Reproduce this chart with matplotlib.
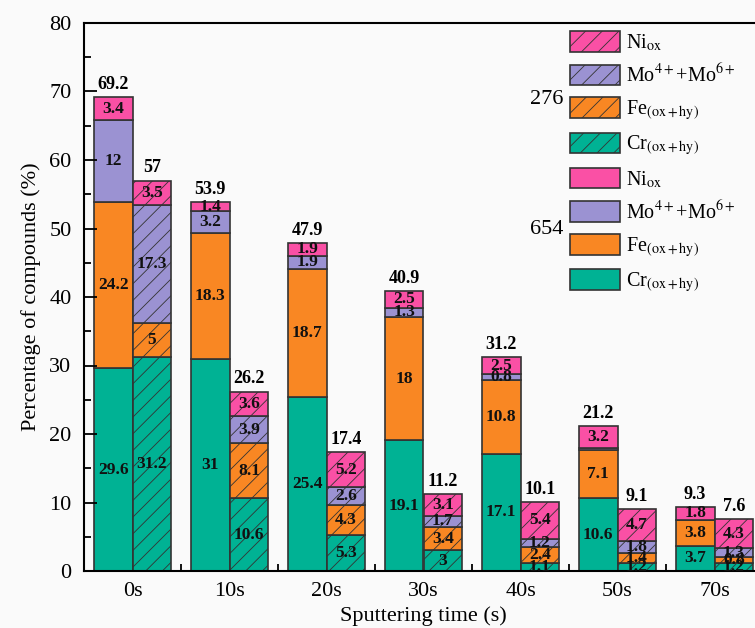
import numpy as np
from matplotlib import pyplot as plt
from matplotlib.patches import Patch

# sputtering time categories
times = ['0s', '10s', '20s', '30s', '40s', '50s', '70s']

# 654 sample (solid bars)
cr_654 = [29.6, 31, 25.4, 19.1, 17.1, 10.6, 3.7]
fe_654 = [24.2, 18.3, 18.7, 18, 10.8, 7.1, 3.8]
mo_654 = [12, 3.2, 1.9, 1.3, 0.8, 0.3, 0]
ni_654 = [3.4, 1.4, 1.9, 2.5, 2.5, 3.2, 1.8]

# 276 sample (hatched bars)
cr_276 = [31.2, 10.6, 5.3, 3, 1.1, 1.2, 1.2]
fe_276 = [5, 8.1, 4.3, 3.4, 2.4, 1.4, 0.8]
mo_276 = [17.3, 3.9, 2.6, 1.7, 1.2, 1.8, 1.3]
ni_276 = [3.5, 3.6, 5.2, 3.1, 5.4, 4.7, 4.3]

labels = [r'Cr$_{\rm (ox+hy)}$', r'Fe$_{\rm (ox+hy)}$', r'Mo$^{4+}$+Mo$^{6+}$', r'Ni$_{\rm ox}$']
colors = ['#00b294', '#f98723', '#9b92d2', '#fa50a5']

plt.rcParams['font.family'] = ['Liberation Serif', 'DejaVu Serif']
plt.rcParams['mathtext.fontset'] = 'stix'
plt.rcParams['hatch.linewidth'] = 0.6
plt.rcParams['hatch.color'] = '#333333'

fig = plt.figure(figsize=(7.55, 6.28), dpi=100, facecolor='#fafafa')
ax = fig.add_axes([84 / 755, 57 / 628, 679 / 755, 548 / 628])
ax.set_facecolor('#fafafa')

x = np.arange(len(times))
w = 0.4


def stack(xpos, series, hatch):
    bottom = np.zeros(len(xpos))
    for vals, c in zip(series, colors):
        vals = np.array(vals, dtype=float)
        ax.bar(xpos, vals, w, bottom=bottom, color=c, edgecolor='#333333',
               linewidth=1.2, hatch=hatch)
        for xi, b, v in zip(xpos, bottom, vals):
            if v >= 0.5:
                ax.text(xi, b + v / 2, f'{v:g}', ha='center', va='center',
                        fontsize=12.5, fontweight='bold', color='#111111')
        bottom += vals
    for xi, t in zip(xpos, bottom):
        ax.text(xi, t + 0.6, f'{round(t, 1):g}', ha='center', va='bottom',
                fontsize=13, fontweight='bold')


stack(x - w / 2, [cr_654, fe_654, mo_654, ni_654], None)
stack(x + w / 2, [cr_276, fe_276, mo_276, ni_276], '//')

ax.set_xlim(-0.5, 6.5)
ax.set_ylim(0, 80)
ax.set_xticks(x)
ax.set_xticklabels(times)
ax.set_xticks(x[:-1] + 0.5, minor=True)
ax.set_yticks(np.arange(0, 81, 10))
ax.set_yticks(np.arange(5, 80, 10), minor=True)
ax.tick_params(axis='x', which='major', length=0, labelsize=16, pad=8)
ax.tick_params(axis='x', which='minor', direction='in', length=5, width=1.3)
ax.tick_params(axis='y', which='major', direction='in', length=9, width=1.3,
               labelsize=16, pad=9)
ax.tick_params(axis='y', which='minor', direction='in', length=5, width=1.3)
for s in ax.spines.values():
    s.set_linewidth(1.5)

ax.set_ylabel('Percentage of compounds (%)', fontsize=16, labelpad=6)
ax.set_xlabel('Sputtering time (s)', fontsize=16, labelpad=4)

handles = []
for c in colors[::-1]:
    handles.append(Patch(facecolor=c, edgecolor='#333333', hatch='//', linewidth=1.2))
for c in colors[::-1]:
    handles.append(Patch(facecolor=c, edgecolor='#333333', linewidth=1.2))
fig.legend(handles, labels[::-1] * 2, loc='upper left',
           bbox_to_anchor=(570 / 755, 1 - 31 / 628), bbox_transform=fig.transFigure,
           frameon=False, fontsize=14.5, handlelength=2.5, handleheight=1.2,
           labelspacing=0.52, handletextpad=0.3, borderpad=0, borderaxespad=0)
fig.text(547 / 755, 1 - 100 / 628, '276', ha='center', va='center', fontsize=16)
fig.text(547 / 755, 1 - 230 / 628, '654', ha='center', va='center', fontsize=16)

fig.savefig('out.png', dpi=100, facecolor=fig.get_facecolor())
